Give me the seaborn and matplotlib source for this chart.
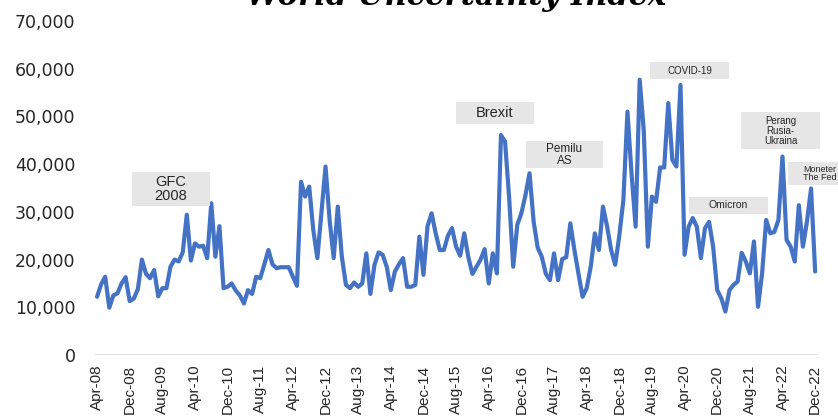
import numpy as np
import pandas as pd
import matplotlib.pyplot as plt
import seaborn as sns
from matplotlib.patches import Rectangle
from matplotlib.ticker import FuncFormatter

# monthly World Uncertainty Index, Apr-2008 .. Dec-2022
wui = [
    12200, 14800, 16400, 9900, 12500, 12900, 15000, 16300, 11300, 11800,
    13800, 20000, 17000, 16100, 17800, 12300, 14000, 14000, 18500, 20000,
    19600, 21500, 29400, 19800, 23400, 22700, 22900, 20300, 31800, 20600,
    27000, 14000, 14300, 15000, 13500, 12500, 10800, 13600, 12800, 16400,
    16100, 19000, 22000, 19000, 18200, 18400, 18400, 18400, 16400, 14500,
    36300, 33200, 35300, 26200, 20300, 30000, 39500, 28300, 20300, 31100,
    20600, 14700, 14000, 15200, 14300, 15000, 21300, 12800, 18900, 21500,
    21000, 18500, 13600, 17500, 19000, 20300, 14300, 14300, 14700, 24800,
    16800, 27000, 29700, 25500, 22000, 22000, 25000, 26600, 22700, 20800,
    25500, 20500, 17000, 18500, 20000, 22200, 15000, 21300, 17100, 46100,
    44700, 33000, 18500, 27300, 29700, 33500, 38100, 28000, 22500, 20600,
    17000, 15700, 21300, 15700, 20100, 20500, 27600, 22000, 17000, 12200,
    14000, 18500, 25500, 22000, 31100, 27000, 22000, 18900, 25000, 32500,
    51000, 38000, 26900, 57700, 47000, 22700, 33200, 32100, 39300, 39300,
    52800, 40900, 39500, 56600, 21000, 26900, 28700, 26900, 20300, 26600,
    27900, 22700, 13600, 11900, 9100, 13600, 14700, 15400, 21400, 19600,
    17100, 23800, 10100, 17100, 28300, 25500, 25800, 28300, 41600, 24100,
    22700, 19600, 31400, 22700, 28000, 34900, 17500,
]
months = pd.date_range('2008-04-01', periods=len(wui), freq='MS')
tick_labels = [m.strftime('%b-%y') for m in months[::8]]

events = ['GFC\n2008', 'Brexit', 'Pemilu\nAS', 'COVID-19', 'Omicron',
          'Perang\nRusia-\nUkraina', 'Moneter\nThe Fed']

df = pd.DataFrame({'idx': np.arange(len(wui)), 'wui': wui})

sns.set_style('white')
plt.rcParams['font.family'] = ['Liberation Sans', 'DejaVu Sans']

W, H = 838, 418
fig = plt.figure(figsize=(W / 100, H / 100), dpi=100)
ax = fig.add_axes([95 / W, 1 - 355 / H, (818 - 95) / W, (355 - 21) / H])

sns.lineplot(data=df, x='idx', y='wui', ax=ax, color='#4472C4', linewidth=3.0)

ax.set_xlim(-0.5, 176.7)
ax.set_ylim(0, 70000)
ax.set_yticks(range(0, 70001, 10000))
ax.yaxis.set_major_formatter(FuncFormatter(lambda v, p: f'{int(v):,}'))
ax.set_xticks(df['idx'][::8])
ax.set_xticklabels(tick_labels, rotation=90)
ax.tick_params(axis='y', length=0, pad=14, labelsize=12.5, labelcolor='#262626')
ax.tick_params(axis='x', length=0, pad=7, labelsize=11, labelcolor='#262626')
for lab in ax.get_yticklabels():
    lab.set_fontfamily('DejaVu Sans')
ax.set_xlabel('')
ax.set_ylabel('')
for s in ax.spines.values():
    s.set_visible(False)
ax.axhline(0, color='#D9D9D9', linewidth=1.2, zorder=0)

# event label boxes (pixel boxes: x0, y0, x1, y1 from top-left) and font size
boxes = [
    ((132, 172, 210, 206), 10.5),
    ((456, 102, 534, 124), 10.5),
    ((526, 141, 603, 168), 8.5),
    ((650, 62, 729, 79), 7),
    ((689, 197, 768, 214), 7.5),
    ((741, 112, 820, 149), 7),
    ((788, 162, 845, 185), 6.5),
]
for label, ((x0, y0, x1, y1), fs) in zip(events, boxes):
    fig.add_artist(Rectangle((x0 / W, 1 - y1 / H), (x1 - x0) / W, (y1 - y0) / H,
                             transform=fig.transFigure, facecolor='#E7E6E6',
                             edgecolor='none', zorder=3))
    cx = (x0 + x1) / 2 if x1 <= W else 820
    fig.text(cx / W, 1 - (y0 + y1) / 2 / H, label, ha='center', va='center',
             fontsize=fs, color='#262626', linespacing=1.0, zorder=4)

# title sits mostly above the top edge, as in the original screenshot
fig.text(456 / W, 1 - 5 / H, 'World Uncertainty Index', ha='center',
         va='baseline', fontsize=22, fontweight='bold', fontstyle='italic',
         family='DejaVu Serif', color='black')

plt.savefig('out.png', dpi=100)
